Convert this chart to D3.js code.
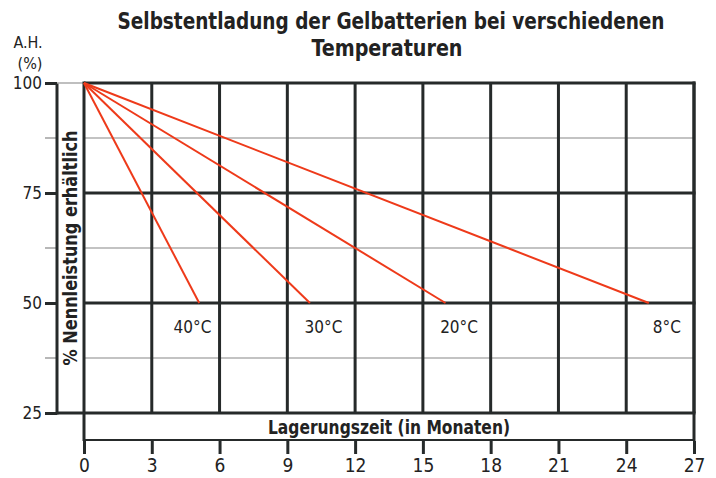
<!DOCTYPE html>
<html>
<head>
<meta charset="utf-8">
<script src="https://cdn.jsdelivr.net/npm/d3@7"></script>
<style>
  body { margin: 0; background: #fff; }
  text { font-family: "DejaVu Sans Condensed", "Liberation Sans Narrow", sans-serif; fill: #222; }
</style>
</head>
<body>
<svg></svg>
<script>
// chart values
var temps = ["40°C", "30°C", "20°C", "8°C"];
var startMonth = 0, startPct = 100;
var endMonths = [5.1, 10, 16, 25];
var endPct = 50;
var labelMonths = [4.8, 10.6, 16.6, 25.8];
var xTicks = [0, 3, 6, 9, 12, 15, 18, 21, 24, 27];
var yTicks = [25, 50, 75, 100];
var yMinor = [37.5, 62.5, 87.5];

var width = 716, height = 478;
var dark = "#262a2a";
var red = "#ee3a1a";

var xScale = d3.scaleLinear().domain([0, 27]).range([84, 694]);
var yScale = d3.scaleLinear().domain([25, 100]).range([413, 83]);

var svg = d3.select("svg").attr("width", width).attr("height", height);

// title
svg.append("text")
    .attr("x", 391).attr("y", 29)
    .attr("text-anchor", "middle")
    .attr("textLength", 547).attr("lengthAdjust", "spacingAndGlyphs")
    .style("font-size", "23px").style("font-weight", "bold")
    .text("Selbstentladung der Gelbatterien bei verschiedenen");
svg.append("text")
    .attr("x", 387).attr("y", 56)
    .attr("text-anchor", "middle")
    .attr("textLength", 151).attr("lengthAdjust", "spacingAndGlyphs")
    .style("font-size", "23px").style("font-weight", "bold")
    .text("Temperaturen");

// unit label
svg.append("text").attr("x", 28).attr("y", 48).attr("text-anchor", "middle")
    .style("font-size", "16px").text("A.H.");
svg.append("text").attr("x", 30).attr("y", 69).attr("text-anchor", "middle")
    .style("font-size", "16px").text("(%)");

// minor horizontal lines
yMinor.forEach(function(v) {
  svg.append("line")
      .attr("x1", 45).attr("x2", 57).attr("y1", yScale(v)).attr("y2", yScale(v))
      .attr("stroke", "#888").attr("stroke-width", 1.2);
  svg.append("line")
      .attr("x1", xScale(0)).attr("x2", xScale(27)).attr("y1", yScale(v)).attr("y2", yScale(v))
      .attr("stroke", "#888").attr("stroke-width", 1.2);
});

// vertical grid
svg.selectAll("line.vgrid")
  .data(xTicks.slice(1))
  .enter().append("line")
    .attr("class", "vgrid")
    .attr("x1", d => xScale(d)).attr("x2", d => xScale(d))
    .attr("y1", yScale(100)).attr("y2", yScale(25))
    .attr("stroke", dark).attr("stroke-width", 3);

// major horizontal grid
svg.selectAll("line.hgrid")
  .data(yTicks)
  .enter().append("line")
    .attr("class", "hgrid")
    .attr("x1", d => d === 25 ? 57 : xScale(0)).attr("x2", xScale(27) + 1.5)
    .attr("y1", d => yScale(d)).attr("y2", d => yScale(d))
    .attr("stroke", dark).attr("stroke-width", 3);

// y label box
svg.append("line").attr("x1", 57).attr("x2", 57)
    .attr("y1", yScale(100)).attr("y2", yScale(25) + 1.5)
    .attr("stroke", dark).attr("stroke-width", 3);
svg.append("line").attr("x1", 57).attr("x2", xScale(0))
    .attr("y1", yScale(100)).attr("y2", yScale(100))
    .attr("stroke", "#aaa").attr("stroke-width", 1.5);
svg.append("text")
    .attr("transform", "translate(77," + 248 + ") rotate(-90)")
    .attr("text-anchor", "middle")
    .attr("textLength", 235).attr("lengthAdjust", "spacingAndGlyphs")
    .style("font-size", "19px").style("font-weight", "bold")
    .text("% Nennleistung erhältlich");

// x label box
svg.append("line").attr("x1", xScale(0)).attr("x2", xScale(0))
    .attr("y1", yScale(100) - 1.5).attr("y2", 441)
    .attr("stroke", dark).attr("stroke-width", 3);
svg.append("line").attr("x1", xScale(0)).attr("x2", xScale(27))
    .attr("y1", 440).attr("y2", 440)
    .attr("stroke", dark).attr("stroke-width", 2);
svg.append("line").attr("x1", xScale(27)).attr("x2", xScale(27))
    .attr("y1", yScale(100) - 1.5).attr("y2", 441)
    .attr("stroke", dark).attr("stroke-width", 3);
svg.append("text")
    .attr("x", 389).attr("y", 434)
    .attr("text-anchor", "middle")
    .attr("textLength", 242).attr("lengthAdjust", "spacingAndGlyphs")
    .style("font-size", "19px").style("font-weight", "bold")
    .text("Lagerungszeit (in Monaten)");

// x axis
var xAxis = d3.axisBottom(xScale).tickValues(xTicks).tickSize(13).tickPadding(5);
var gx = svg.append("g").attr("transform", "translate(0,441)").call(xAxis);
gx.select(".domain").remove();
gx.selectAll(".tick line").attr("stroke", dark).attr("stroke-width", 3);
gx.selectAll(".tick text").style("font-size", "19px")
    .style("font-family", "'DejaVu Sans Condensed', sans-serif").attr("fill", "#222");

// y axis
var yAxis = d3.axisLeft(yScale).tickValues(yTicks).tickSize(12).tickPadding(3);
var gy = svg.append("g").attr("transform", "translate(57,0)").call(yAxis);
gy.select(".domain").remove();
gy.selectAll(".tick line").attr("stroke", dark).attr("stroke-width", 3);
gy.selectAll(".tick text").style("font-size", "17px")
    .style("font-family", "'DejaVu Sans Condensed', sans-serif").attr("fill", "#222");

// discharge lines
svg.selectAll("line.discharge")
  .data(endMonths)
  .enter().append("line")
    .attr("class", "discharge")
    .attr("x1", xScale(startMonth)).attr("y1", yScale(startPct))
    .attr("x2", d => xScale(d)).attr("y2", yScale(endPct))
    .attr("stroke", red).attr("stroke-width", 2);

// temperature labels
svg.selectAll("text.temp")
  .data(temps)
  .enter().append("text")
    .attr("class", "temp")
    .attr("x", (d, i) => xScale(labelMonths[i]))
    .attr("y", yScale(endPct) + 30)
    .attr("text-anchor", "middle")
    .style("font-size", "17px")
    .text(d => d);
</script>
</body>
</html>
